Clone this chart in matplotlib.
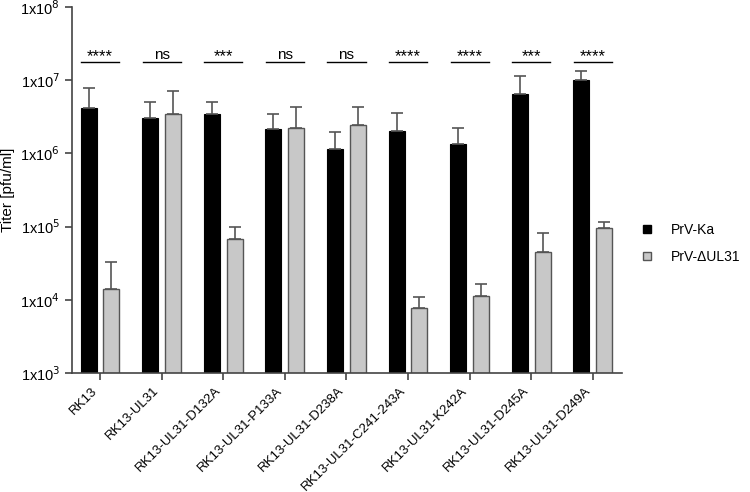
import numpy as np
import matplotlib.pyplot as plt
from matplotlib.lines import Line2D

plt.rcParams['font.family'] = ['Liberation Sans', 'DejaVu Sans']

cells = ['RK13', 'RK13-UL31', 'RK13-UL31-D132A', 'RK13-UL31-P133A', 'RK13-UL31-D238A',
         'RK13-UL31-C241-243A', 'RK13-UL31-K242A', 'RK13-UL31-D245A', 'RK13-UL31-D249A']
ka_mean = [4.2e6, 3.05e6, 3.4e6, 2.13e6, 1.16e6, 2.02e6, 1.32e6, 6.5e6, 9.9e6]
ka_top = [7.8e6, 5.0e6, 5.0e6, 3.4e6, 1.94e6, 3.6e6, 2.22e6, 1.13e7, 1.32e7]
dul31_mean = [1.4e4, 3.4e6, 6.7e4, 2.24e6, 2.44e6, 7.6e3, 1.13e4, 4.55e4, 9.5e4]
dul31_top = [3.25e4, 7.0e6, 9.8e4, 4.35e6, 4.26e6, 1.1e4, 1.66e4, 8.1e4, 1.14e5]
signif = ['****', 'ns', '***', 'ns', 'ns', '****', '****', '***', '****']

x = np.arange(len(cells))
w = 0.26

fig = plt.figure(figsize=(7.5, 4.92), dpi=100)
ax = fig.add_axes([0.096, 0.242, 0.733, 0.744])

ka_err = np.array(ka_top) - np.array(ka_mean)
du_err = np.array(dul31_top) - np.array(dul31_mean)
ekw = dict(ecolor='#555555', elinewidth=1.2, capsize=4, capthick=1.2)

ax.bar(x - 0.185, ka_mean, w, color='black', edgecolor='black', linewidth=0.8,
       yerr=[np.zeros(len(x)), ka_err], error_kw=ekw)
ax.bar(x + 0.185, dul31_mean, w, color='#c8c8c8', edgecolor='#555555', linewidth=1.0,
       yerr=[np.zeros(len(x)), du_err], error_kw=ekw)

ax.set_yscale('log')
ax.set_ylim(1e3, 1e8)
ax.set_xlim(-0.455, 8.47)
yt = [1e3, 1e4, 1e5, 1e6, 1e7, 1e8]
ax.set_yticks(yt)
ax.set_yticklabels(['1x10$^{%d}$' % int(np.log10(v)) for v in yt], fontsize=10.5)
ax.minorticks_off()
ax.set_xticks(x)
ax.set_xticklabels(cells, rotation=45, ha='right', fontsize=9.5)
ax.set_ylabel('Titer [pfu/ml]', fontsize=11)

for s in ['top', 'right']:
    ax.spines[s].set_visible(False)
for s in ['left', 'bottom']:
    ax.spines[s].set_color('#444444')
    ax.spines[s].set_linewidth(1.2)
ax.tick_params(axis='both', colors='#444444', labelcolor='black', width=1.2, length=5)

# significance bars
for i, s in enumerate(signif):
    ax.plot([i - 0.31, i + 0.31], [1.77e7, 1.77e7], color='black', linewidth=1)
    if s == 'ns':
        ax.text(i, 1.95e7, s, ha='center', va='baseline', fontsize=11)
    else:
        ax.text(i, 2.17e7, s, ha='center', va='center_baseline', fontsize=12)

handles = [Line2D([], [], marker='s', linestyle='', markersize=6, markerfacecolor='black',
                  markeredgecolor='black'),
           Line2D([], [], marker='s', linestyle='', markersize=6, markerfacecolor='#c8c8c8',
                  markeredgecolor='#555555')]
ax.legend(handles, ['PrV-Ka', 'PrV-\u0394UL31'], loc='center left',
          bbox_to_anchor=(0.846, 0.505), bbox_transform=fig.transFigure,
          frameon=False, fontsize=10, borderpad=0, handlelength=0.8,
          handletextpad=1.3, labelspacing=0.95)

fig.savefig('out.png', dpi=100)
